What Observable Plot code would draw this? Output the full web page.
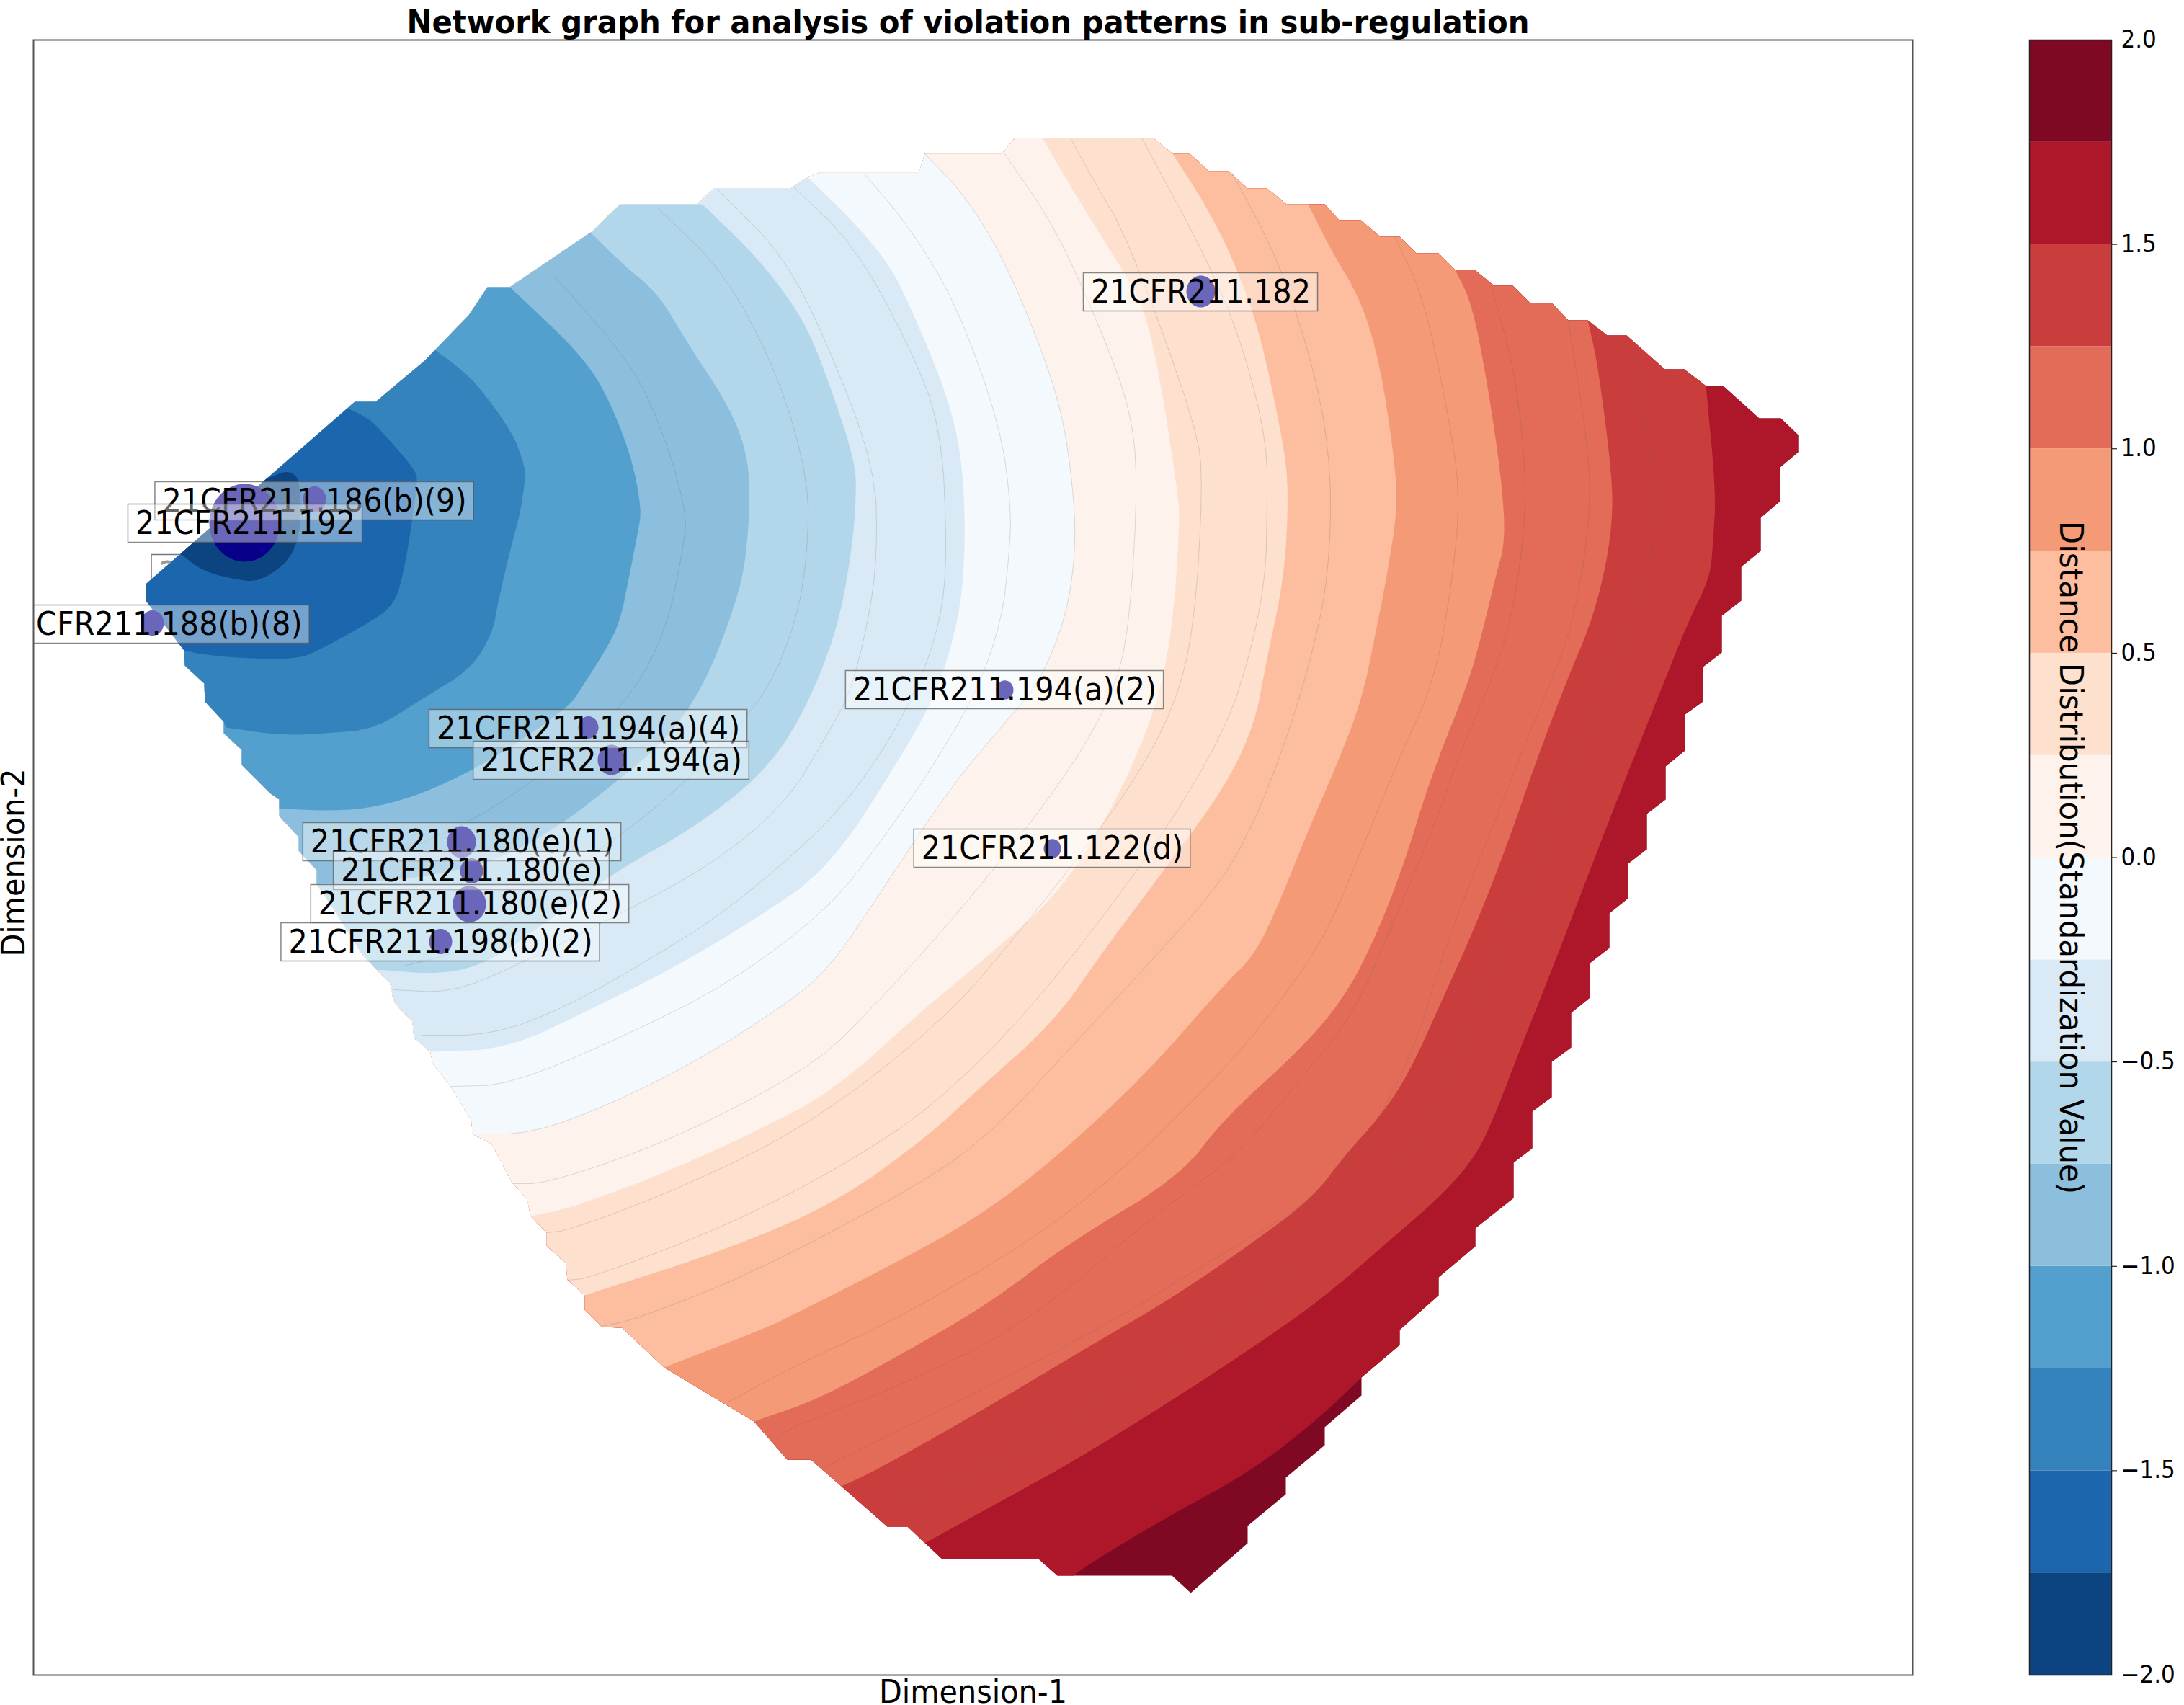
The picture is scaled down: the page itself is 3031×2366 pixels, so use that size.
<!DOCTYPE html>
<html>
<head>
<meta charset="utf-8">
<script src="https://cdn.jsdelivr.net/npm/d3@7"></script>
<script src="https://cdn.jsdelivr.net/npm/@observablehq/plot@0.6"></script>
<style>
html,body{margin:0;padding:0;background:#fff}
#fig{position:relative;width:3031px;height:2366px;overflow:hidden}
#fig svg{position:absolute;top:0;background:#fff}
</style>
</head>
<body>
<div id="fig"></div>
<script>
// Colour bar
const levels = [-1.75,-1.5,-1.25,-1,-0.75,-0.5,-0.25,0,0.25,0.5,0.75,1,1.25,1.5,1.75];
const bandColors = ["#0c4381","#1c66ad","#3583bd","#53a0ce","#8bbfdd","#b3d7ea","#d9eaf6","#f3f9fc","#fef3ec","#fde0cd","#fcbe9f","#f49a77","#e26c58","#c93e3c","#ae172a","#7f0823"];
const barTicks = [-2,-1.5,-1,-0.5,0,0.5,1,1.5,2];

// Outline of the interpolated surface (Dimension-1, Dimension-2), clockwise from the left tip
const hull = [[202,810],[492,557],[521,557],[589,500],[650,437],[676,398],[707,398],[821,321],[860,283],[967,283],[990,261],[1097,261],[1120,245],[1138,239],[1275,239],[1283,213],[1390,213],[1408,191],[1600,191],[1627,213],[1651,213],[1677,237],[1704,237],[1731,261],[1758,261],[1785,283],[1838,283],[1858,305],[1888,305],[1915,328],[1942,328],[1965,351],[1996,351],[2019,374],[2046,374],[2073,396],[2099,396],[2123,420],[2153,420],[2176,444],[2203,444],[2230,465],[2257,465],[2310,512],[2337,512],[2367,535],[2391,535],[2441,580],[2471,580],[2495,603],[2495,627],[2470,648],[2470,695],[2443,718],[2443,764],[2416,786],[2416,833],[2389,854],[2389,905],[2363,925],[2363,973],[2338,991],[2338,1041],[2311,1063],[2311,1109],[2285,1129],[2285,1178],[2259,1198],[2259,1246],[2233,1267],[2233,1315],[2206,1336],[2206,1384],[2180,1405],[2180,1453],[2153,1473],[2153,1522],[2126,1542],[2126,1593],[2100,1613],[2100,1662],[2047,1704],[2047,1729],[1996,1772],[1996,1797],[1942,1845],[1942,1866],[1889,1911],[1889,1936],[1838,1980],[1838,2005],[1784,2050],[1784,2073],[1731,2117],[1731,2141],[1652,2210],[1626,2186],[1467,2186],[1441,2163],[1307,2163],[1259,2118],[1231,2118],[1125,2025],[1092,2025],[1046,1972],[921,1897],[863,1842],[835,1841],[811,1817],[811,1797],[787,1775],[785,1753],[758,1728],[758,1710],[736,1687],[731,1663],[710,1640],[682,1587],[655,1573],[654,1555],[625,1507],[600,1475],[597,1459],[574,1440],[572,1417],[546,1390],[541,1364],[503,1325],[467,1268],[439,1226],[439,1207],[414,1180],[414,1161],[387,1132],[387,1109],[374,1100],[335,1061],[335,1040],[310,1017],[310,1001],[284,973],[283,948],[256,923],[255,902],[202,833]];

// Filled contour edges, each from its upper end on the outline to its lower end
const edgeM175 = [[369,664],[400,651],[418,668],[415,764],[362,808],[318,802],[280,791],[250,768]];
const edgeM150 = [[482,566],[507,578],[522,590],[576,651],[579,668],[571,726],[561,787],[548,837],[515,862],[438,904],[413,913],[359,914],[288,909],[255,902]];
const edgeM125 = [[603,485],[624,500],[660,530],[711,600],[726,641],[729,661],[721,714],[711,749],[691,833],[683,879],[652,929],[589,967],[520,1011],[456,1017],[390,1020],[313,1009]];
const edgeM100 = [[707,398],[750,438],[801,488],[837,537],[875,629],[890,706],[885,737],[869,818],[862,852],[849,887],[808,952],[788,982],[680,1055],[600,1095],[540,1115],[480,1125],[387,1122]];
const edgeM075 = [[819,322],[867,369],[913,407],[954,476],[1005,553],[1031,610],[1041,667],[1036,770],[1020,840],[975,955],[920,1030],[860,1080],[784,1140],[700,1190],[600,1215],[500,1225],[439,1226]];
const edgeM050 = [[974,283],[1036,342],[1082,396],[1122,457],[1158,553],[1186,641],[1188,687],[1181,770],[1160,880],[1110,1000],[1054,1077],[960,1150],[860,1205],[770,1270],[682,1333],[615,1352],[522,1345]];
const edgeM025 = [[1120,245],[1189,312],[1235,369],[1260,419],[1301,514],[1326,591],[1337,667],[1339,770],[1330,860],[1300,960],[1250,1050],[1150,1205],[1040,1280],[930,1345],[819,1400],[704,1455],[597,1459]];
const edge000 = [[1283,213],[1337,269],[1388,350],[1439,468],[1474,572],[1490,687],[1492,770],[1478,860],[1440,950],[1396,1000],[1320,1090],[1230,1225],[1150,1345],[1080,1400],[965,1473],[844,1533],[736,1573],[655,1573]];
const edge025 = [[1446,191],[1490,266],[1525,323],[1550,362],[1587,424],[1610,527],[1634,683],[1637,723],[1627,870],[1605,980],[1550,1110],[1470,1240],[1360,1335],[1281,1400],[1157,1513],[1042,1573],[908,1633],[787,1677],[736,1687]];
const edge050 = [[1627,213],[1674,286],[1714,366],[1748,460],[1781,616],[1788,683],[1782,800],[1756,922],[1741,1004],[1700,1091],[1620,1200],[1530,1320],[1463,1417],[1355,1513],[1291,1573],[1163,1667],[1010,1733],[811,1797]];
const edge075 = [[1815,283],[1848,349],[1888,415],[1915,505],[1935,639],[1939,706],[1924,800],[1909,876],[1889,973],[1853,1065],[1817,1147],[1766,1274],[1736,1330],[1700,1364],[1590,1490],[1463,1608],[1355,1690],[1227,1760],[1100,1824],[1061,1843],[921,1897]];
const edge100 = [[2019,374],[2042,420],[2063,527],[2083,661],[2089,750],[2075,800],[2057,876],[2037,948],[1986,1075],[1945,1208],[1904,1310],[1863,1387],[1802,1458],[1700,1550],[1636,1633],[1483,1724],[1374,1807],[1259,1874],[1138,1940],[1046,1972]];
const edge125 = [[2203,444],[2217,505],[2237,661],[2237,728],[2225,800],[2205,871],[2174,943],[2128,1065],[2093,1167],[2047,1285],[2001,1387],[1955,1489],[1914,1550],[1868,1600],[1821,1662],[1738,1724],[1629,1799],[1514,1866],[1355,1961],[1215,2040],[1167,2062]];
const edge150 = [[2367,535],[2381,683],[2377,750],[2373,800],[2343,861],[2302,963],[2241,1116],[2190,1249],[2149,1356],[2108,1458],[2077,1540],[2050,1600],[2005,1654],[1929,1720],[1833,1803],[1731,1874],[1610,1953],[1483,2031],[1406,2073],[1283,2141]];
const edge175 = [[1889,1911],[1833,1965],[1738,2040],[1610,2110],[1514,2168],[1489,2186]];
const edges = [edgeM175,edgeM150,edgeM125,edgeM100,edgeM075,edgeM050,edgeM025,edge000,edge025,edge050,edge075,edge100,edge125,edge150,edge175];

// Thin contour lines
const thinA = [[770,384],[852,476],[903,553],[954,706],[946,770],[925,870],[880,960],[800,1040],[700,1110],[650,1140],[560,1180]];
const thinB = [[913,289],[1005,377],[1080,520],[1122,667],[1120,770],[1105,860],[1065,960],[985,1050],[900,1130],[800,1200],[720,1270],[640,1320],[560,1340]];
const thinC = [[995,262],[1087,354],[1148,476],[1214,648],[1217,770],[1205,860],[1180,960],[1150,1015],[1090,1115],[988,1199],[860,1268],[707,1344],[625,1377],[546,1373]];
const thinD = [[1102,260],[1184,338],[1260,476],[1306,591],[1314,770],[1305,860],[1275,950],[1220,1050],[1150,1142],[1013,1260],[911,1325],[784,1398],[682,1436],[585,1436]];
const thinE = [[1199,241],[1260,312],[1326,419],[1388,591],[1403,706],[1400,770],[1390,860],[1355,960],[1290,1070],[1220,1170],[1150,1260],[1013,1364],[860,1440],[707,1505],[625,1507]];
const thinF = [[1393,212],[1464,315],[1527,456],[1567,563],[1579,661],[1567,870],[1545,960],[1490,1060],[1400,1180],[1300,1300],[1208,1400],[1138,1470],[1010,1543],[883,1600],[755,1642],[710,1642]];
const thinG = [[1485,191],[1515,246],[1567,335],[1661,594],[1669,674],[1657,870],[1630,980],[1570,1090],[1480,1210],[1400,1310],[1323,1400],[1201,1503],[1074,1587],[915,1660],[787,1707],[758,1710]];
const thinH = [[1584,191],[1681,371],[1728,491],[1758,616],[1758,706],[1756,800],[1736,902],[1700,1014],[1600,1180],[1431,1400],[1297,1533],[1170,1617],[1010,1700],[819,1773],[787,1776]];
const thinI = [[1708,237],[1775,362],[1828,527],[1848,661],[1843,800],[1822,902],[1792,1004],[1751,1116],[1700,1218],[1600,1330],[1495,1443],[1361,1587],[1233,1667],[1042,1767],[883,1830],[835,1840]];
const thinJ = [[1935,328],[1975,411],[2009,572],[2026,683],[2016,800],[1991,943],[1940,1055],[1894,1167],[1843,1290],[1787,1376],[1700,1484],[1500,1677],[1265,1820],[1106,1893],[1010,1945]];
const thinK = [[2069,396],[2103,518],[2119,674],[2108,800],[2083,912],[2027,1040],[1986,1157],[1930,1285],[1879,1407],[1802,1499],[1720,1600],[1610,1679],[1419,1841],[1227,1932],[1100,1978],[1075,2000]];
const thinL = [[2176,444],[2203,616],[2207,697],[2195,800],[2174,892],[2123,1014],[2067,1157],[2006,1310],[1965,1448],[1919,1540],[1884,1600],[1801,1679],[1706,1733],[1546,1832],[1355,1932],[1151,2031],[1140,2040]];
const thinM = [[2270,482],[2294,661],[2294,728],[2287,800],[2236,928],[2169,1096],[2108,1259],[2047,1387],[2001,1514],[1955,1600],[1929,1633],[1789,1774],[1610,1890],[1419,2015],[1228,2094]];
const thinLines = [thinA,thinB,thinC,thinD,thinE,edge000,thinF,thinG,thinH,thinI,thinJ,thinK,thinL,thinM];

// Nodes
const nodeNames = ["21CFR211.186(b)(9)","21CFR211.192","21CFR211.188(b)(8)","21CFR211.194(a)(4)","21CFR211.194(a)","21CFR211.194(a)(2)","21CFR211.180(e)(1)","21CFR211.180(e)","21CFR211.180(e)(2)","21CFR211.198(b)(2)","21CFR211.122(d)","21CFR211.182"];
const nodeX = [436,339,211,816,848,1394,640,654,651,611,1460,1666];
const nodeY = [692,725,864,1009,1054,957,1168,1208,1254,1306,1177,404];
const nodeR = [16,49,16,14,19,12,20,16,23,16,12,20];
const labelX = [436,340,208,816,848,1394,641,654,652,611,1460,1666];
const labelY = [695,726,866,1011,1055,957,1168,1208,1254,1307,1177,405];
const hiddenName = ["21CFR211.188"];
const hiddenX = [210];
const hiddenY = [796];

const FONT = "DejaVu Sans";
const CONDENSE = 0.94;                 // the reference glyphs are narrower than DejaVu's own proportions
const LABEL_SIZE = 44, BOX_PAD = 10, BOX_H = 53;
const ctx = document.createElement("canvas").getContext("2d");
ctx.font = `${LABEL_SIZE}px '${FONT}'`;
const textW = s => ctx.measureText(s).width * CONDENSE;

// Rounded drawing of a polyline: corner cutting, ends kept
function smooth(pts, n = 2){
  let p = pts;
  for (let k = 0; k < n; k++){
    const q = [p[0]];
    for (let i = 0; i < p.length-1; i++){
      const a = p[i], b = p[i+1];
      q.push([a[0]*.75+b[0]*.25, a[1]*.75+b[1]*.25],[a[0]*.25+b[0]*.75, a[1]*.25+b[1]*.75]);
    }
    q.push(p[p.length-1]);
    p = q;
  }
  return p;
}
function nearestSegment(p){
  let best = 0, bd = Infinity;
  for (let i = 0; i < hull.length; i++){
    const a = hull[i], b = hull[(i+1)%hull.length];
    const dx = b[0]-a[0], dy = b[1]-a[1];
    const t = Math.max(0, Math.min(1, ((p[0]-a[0])*dx+(p[1]-a[1])*dy)/(dx*dx+dy*dy)));
    const d = Math.hypot(p[0]-a[0]-t*dx, p[1]-a[1]-t*dy);
    if (d < bd){ bd = d; best = i; }
  }
  return best;
}
// Region below a level: the edge, then the outline from its lower end round to its upper end
function regionBelow(edge){
  const top = nearestSegment(edge[0]), bottom = nearestSegment(edge[edge.length-1]);
  const pts = smooth(edge);
  let j = (bottom+1)%hull.length;
  while (j !== (top+1)%hull.length){ pts.push(hull[j]); j = (j+1)%hull.length; }
  return pts;
}
const px = d => d[0], py = d => d[1];
const mid = i => i === 0 ? -1.9 : i === 15 ? 1.9 : (levels[i-1]+levels[i])/2;
const colorScale = {type:"threshold", domain:levels, range:bandColors};

// Node shape: slightly taller than wide, as in the picture
const tallDot = {draw(c, size){
  const rx = Math.sqrt(size/Math.PI), ry = rx*1.1, k = 0.5523;
  c.moveTo(rx,0);
  c.bezierCurveTo(rx,k*ry,k*rx,ry,0,ry);
  c.bezierCurveTo(-k*rx,ry,-rx,k*ry,-rx,0);
  c.bezierCurveTo(-rx,-k*ry,-k*rx,-ry,0,-ry);
  c.bezierCurveTo(k*rx,-ry,rx,-k*ry,rx,0);
  c.closePath();
}};

const boxes = nodeNames.map((name,i) => {
  const w = textW(name) + 2*BOX_PAD;
  return {name, x:labelX[i], y:labelY[i], x1:labelX[i]-w/2, x2:labelX[i]+w/2, y1:labelY[i]-BOX_H/2, y2:labelY[i]+BOX_H/2};
});
const hw = textW(hiddenName[0]) + 2*BOX_PAD;
const nodes = nodeNames.map((n,i)=>({n, x:nodeX[i], y:nodeY[i], r:nodeR[i]}));

const main = Plot.plot({
  width:2700, height:2366,
  marginLeft:46, marginRight:46, marginTop:55, marginBottom:42,
  x:{domain:[46,2654], axis:null},
  y:{domain:[2324,55], axis:null},
  color:colorScale,
  r:{type:"identity"},
  style:{fontFamily:FONT, background:"#fff", overflow:"visible"},
  marks:[
    Plot.rect([0],{x1:()=>hiddenX[0], x2:()=>hiddenX[0]+hw, y1:()=>hiddenY[0]-BOX_H/2, y2:()=>hiddenY[0]+BOX_H/2, fill:"#fff", stroke:"#777", strokeWidth:1.5}),
    Plot.text(hiddenName,{x:()=>hiddenX[0]+BOX_PAD, y:()=>hiddenY[0], text:d=>d, textAnchor:"start", fontSize:LABEL_SIZE, fill:"#999"}),
    Plot.line(hull,{x:px,y:py,fill:()=>mid(15),stroke:"none",curve:"linear-closed"}),
    ...edges.map((_,k)=>edges.length-1-k).map(k =>
      Plot.line(regionBelow(edges[k]),{x:px,y:py,fill:()=>mid(k),stroke:"none",curve:"linear-closed"})
    ),
    ...thinLines.map(l => Plot.line(smooth(l),{x:px,y:py,stroke:"#5a5a5a",strokeOpacity:0.2,strokeWidth:1,curve:"linear"})),
    Plot.dot(nodes,{x:"x",y:"y",r:"r",symbol:tallDot,fill:"#08008a",stroke:"none"}),
    ...boxes.flatMap(b => [
      Plot.rect([b],{x1:"x1",x2:"x2",y1:"y1",y2:"y2",fill:"#fff",fillOpacity:0.4,stroke:"#555",strokeOpacity:0.7,strokeWidth:1.5,clip:true}),
      Plot.text([b],{x:"x",y:"y",text:"name",fontSize:LABEL_SIZE,fill:"#000",clip:true})
    ]),
    Plot.frame({stroke:"#555",strokeWidth:2}),
    Plot.text(["Network graph for analysis of violation patterns in sub-regulation"],{frameAnchor:"top",lineAnchor:"bottom",dx:-7,dy:-10,fontSize:44.5,fontWeight:"bold",fill:"#000"}),
    Plot.text(["Dimension-1"],{frameAnchor:"bottom",lineAnchor:"top",dy:7,fontSize:44,fill:"#000"}),
    Plot.text(["Dimension-2"],{frameAnchor:"left",textAnchor:"middle",rotate:-90,dx:-27,dy:7,fontSize:44,fill:"#000"})
  ]
});
main.style.left = "0px";

const barBands = bandColors.map((_,i)=>({lo:-2+i*0.25, hi:-1.75+i*0.25, v:mid(i)}));
const bar = Plot.plot({
  width:331, height:2366,
  marginLeft:116, marginRight:101, marginTop:55, marginBottom:42,
  x:{domain:[0,1], axis:null},
  y:{domain:[-2,2], axis:null},
  color:colorScale,
  style:{fontFamily:FONT, background:"#fff", overflow:"visible"},
  marks:[
    Plot.rectY(barBands,{x1:()=>0,x2:()=>1,y1:"lo",y2:"hi",fill:"v"}),
    Plot.frame({stroke:"#222",strokeWidth:1.5}),
    Plot.axisY(barTicks,{anchor:"right",tickSize:7,tickPadding:6,tickFormat:".1f",fontSize:33,label:null,stroke:"#000",fill:"#000"}),
    Plot.text(["Distance Distribution(Standardization Value)"],{frameAnchor:"middle",rotate:90,fontSize:44.7,fill:"#000"})
  ]
});
bar.style.left = "2700px";

// Narrow every glyph run about its own anchor
for (const svg of [main, bar]) {
  for (const t of svg.querySelectorAll("text")) {
    const x = +t.getAttribute("x") || 0, y = +t.getAttribute("y") || 0;
    const tr = t.getAttribute("transform") || "";
    t.setAttribute("transform", `${tr} translate(${x},${y}) scale(${CONDENSE},1) translate(${-x},${-y})`);
  }
}

const fig = document.getElementById("fig");
fig.append(main, bar);
</script>
</body>
</html>
